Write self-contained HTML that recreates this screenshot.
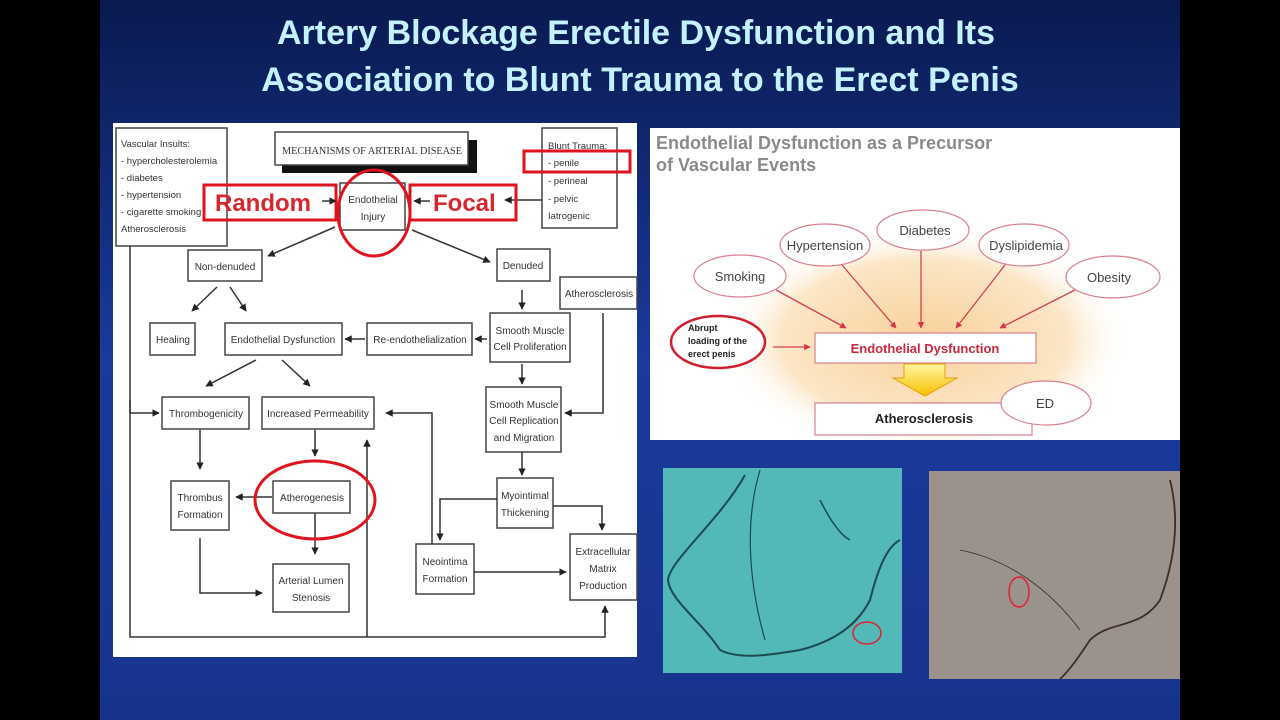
<!DOCTYPE html>
<html><head><meta charset="utf-8"><style>
html,body{margin:0;padding:0;background:#000;}
svg{display:block;font-family:"Liberation Sans",sans-serif;}
</style></head><body>
<svg width="1280" height="720" viewBox="0 0 1280 720" xmlns="http://www.w3.org/2000/svg">
<defs>
<linearGradient id="bg" x1="0" y1="0" x2="0" y2="1">
<stop offset="0" stop-color="#0a1a50"/><stop offset="0.5" stop-color="#1a3a9c"/><stop offset="1" stop-color="#17338c"/>
</linearGradient>
<radialGradient id="glow" cx="0.5" cy="0.5" r="0.5">
<stop offset="0" stop-color="#f8d09a"/><stop offset="0.7" stop-color="#fce6c6"/><stop offset="1" stop-color="#ffffff" stop-opacity="0"/>
</radialGradient>
<clipPath id="rp"><rect x="650" y="128" width="530" height="312"/></clipPath>
<linearGradient id="yarr" x1="0" y1="0" x2="0" y2="1"><stop offset="0" stop-color="#fff6a0"/><stop offset="1" stop-color="#f5c000"/></linearGradient>
<marker id="a" viewBox="0 0 10 10" refX="9" refY="5" markerWidth="5" markerHeight="5" orient="auto"><path d="M0,0L10,5L0,10z" fill="#222"/></marker>
<marker id="r" viewBox="0 0 10 10" refX="9" refY="5" markerWidth="5" markerHeight="5" orient="auto"><path d="M0,0L10,5L0,10z" fill="#d8344a"/></marker>
</defs>
<rect x="0" y="0" width="1280" height="720" fill="#000"/>
<rect x="100" y="0" width="1080" height="720" fill="url(#bg)"/>
<g fill="#c4f1ff" font-weight="bold" font-size="34" text-anchor="middle">
<text x="636" y="44">Artery Blockage Erectile Dysfunction and Its</text>
<text x="640" y="91">Association to Blunt Trauma to the Erect Penis</text>
</g>

<!-- Left diagram -->
<rect x="113" y="123" width="524" height="534" fill="#fff"/>
<g fill="none" stroke="#444" stroke-width="1.5" font-size="10">
<rect x="116" y="128" width="111" height="118"/>
<rect x="282" y="140" width="195" height="33" fill="#111" stroke="none"/>
<rect x="275" y="132" width="193" height="33" fill="#fff"/>
<rect x="542" y="128" width="75" height="100"/>
<rect x="340" y="183" width="65" height="47" fill="#fff"/>
<rect x="188" y="250" width="74" height="31"/>
<rect x="497" y="249" width="53" height="32"/>
<rect x="560" y="277" width="77" height="32"/>
<rect x="150" y="323" width="45" height="32"/>
<rect x="225" y="323" width="117" height="32"/>
<rect x="367" y="323" width="105" height="32"/>
<rect x="490" y="313" width="80" height="49"/>
<rect x="162" y="397" width="87" height="32"/>
<rect x="262" y="397" width="112" height="32"/>
<rect x="486" y="387" width="75" height="65"/>
<rect x="171" y="481" width="58" height="49"/>
<rect x="273" y="481" width="77" height="32"/>
<rect x="497" y="478" width="56" height="50"/>
<rect x="273" y="564" width="76" height="48"/>
<rect x="416" y="544" width="58" height="50"/>
<rect x="570" y="534" width="67" height="66"/>
</g>
<g stroke="#333" stroke-width="1.5" fill="none" marker-end="url(#a)">
<path d="M542,200L505,200"/>
<path d="M335,227L268,256"/>
<path d="M412,230L490,262"/>
<path d="M217,287L192,311"/>
<path d="M230,287L246,311"/>
<path d="M522,290L522,309"/>
<path d="M487,339L475,339"/>
<path d="M365,339L345,339"/>
<path d="M522,364L522,384"/>
<path d="M256,360L206,386"/>
<path d="M282,360L310,386"/>
<path d="M130,246L130,413L159,413"/>
<path d="M603,313L603,413L565,413"/>
<path d="M200,430L200,469"/>
<path d="M315,430L315,456"/>
<path d="M272,497L236,497"/>
<path d="M315,513L315,554"/>
<path d="M200,538L200,593L262,593"/>
<path d="M367,637L367,440"/>
<path d="M432,544L432,413L386,413"/>
<path d="M522,452L522,475"/>
<path d="M497,499L440,499L440,540"/>
<path d="M553,506L602,506L602,530"/>
<path d="M474,572L566,572"/>
<path d="M130,400L130,637L605,637L605,606"/>
</g>
<g fill="#333" font-size="10" text-anchor="middle">
<text x="372" y="154" font-family="Liberation Serif,serif" font-size="10" textLength="180" lengthAdjust="spacingAndGlyphs">MECHANISMS OF ARTERIAL DISEASE</text>
<g text-anchor="start" font-size="9.5">
<text x="121" y="147">Vascular Insults:</text>
<text x="121" y="164">- hypercholesterolemia</text>
<text x="121" y="181">- diabetes</text>
<text x="121" y="198">- hypertension</text>
<text x="121" y="215">- cigarette smoking</text>
<text x="121" y="232">Atherosclerosis</text>
<text x="548" y="149">Blunt Trauma:</text>
<text x="548" y="166">- penile</text>
<text x="548" y="184">- perineal</text>
<text x="548" y="202">- pelvic</text>
<text x="548" y="219">Iatrogenic</text>
</g>
<text x="373" y="203">Endothelial</text><text x="373" y="220">Injury</text>
<text x="225" y="270">Non-denuded</text>
<text x="523" y="269">Denuded</text>
<text x="599" y="297">Atherosclerosis</text>
<text x="173" y="343">Healing</text>
<text x="283" y="343">Endothelial Dysfunction</text>
<text x="420" y="343">Re-endothelialization</text>
<text x="530" y="334">Smooth Muscle</text><text x="530" y="350">Cell Proliferation</text>
<text x="206" y="417">Thrombogenicity</text>
<text x="318" y="417">Increased Permeability</text>
<text x="524" y="408">Smooth Muscle</text><text x="524" y="424">Cell Replication</text><text x="524" y="441">and Migration</text>
<text x="200" y="501">Thrombus</text><text x="200" y="518">Formation</text>
<text x="312" y="501">Atherogenesis</text>
<text x="525" y="499">Myointimal</text><text x="525" y="516">Thickening</text>
<text x="311" y="584">Arterial Lumen</text><text x="311" y="601">Stenosis</text>
<text x="445" y="565">Neointima</text><text x="445" y="582">Formation</text>
<text x="603" y="555">Extracellular</text><text x="603" y="572">Matrix</text><text x="603" y="589">Production</text>
</g>
<g fill="none" stroke="#e0141e" stroke-width="3">
<rect x="524" y="151" width="106" height="21"/>
<rect x="204" y="185" width="132" height="35"/>
<rect x="410" y="185" width="106" height="35"/>
<ellipse cx="374" cy="213" rx="36" ry="43"/>
<ellipse cx="315" cy="500" rx="60" ry="39"/>
</g>
<g fill="#d8262e" font-weight="bold" font-size="24">
<text x="215" y="211">Random</text>
<text x="433" y="211">Focal</text>
</g>
<path d="M322,201L336,201" stroke="#333" stroke-width="1.5" marker-end="url(#a)"/>
<path d="M430,201L414,201" stroke="#333" stroke-width="1.5" marker-end="url(#a)"/>

<!-- Right top panel -->
<rect x="650" y="128" width="530" height="312" fill="#fff"/>
<ellipse cx="925" cy="340" rx="205" ry="115" fill="url(#glow)" clip-path="url(#rp)"/>
<g fill="#8a8a8a" font-weight="bold" font-size="18">
<text x="656" y="149">Endothelial Dysfunction as a Precursor</text>
<text x="656" y="171">of Vascular Events</text>
</g>
<g stroke="#d44050" stroke-width="1.3" fill="none" marker-end="url(#r)">
<path d="M776,290L846,328"/>
<path d="M842,265L896,328"/>
<path d="M921,251L921,328"/>
<path d="M1005,265L956,328"/>
<path d="M1075,290L1000,328"/>
<path d="M773,347L810,347"/>
</g>
<g fill="#fff" stroke="#d88090" stroke-width="1.2">
<ellipse cx="740" cy="276" rx="46" ry="21"/>
<ellipse cx="825" cy="245" rx="45" ry="21"/>
<ellipse cx="923" cy="230" rx="46" ry="20"/>
<ellipse cx="1024" cy="245" rx="45" ry="21"/>
<ellipse cx="1113" cy="277" rx="47" ry="21"/>
<rect x="815" y="333" width="221" height="30"/>
<rect x="815" y="403" width="217" height="32"/>
<ellipse cx="1046" cy="403" rx="45" ry="22"/>
</g>
<ellipse cx="718" cy="342" rx="47" ry="26" fill="#fff" stroke="#d0202e" stroke-width="2.5"/>
<path d="M904,364L945,364L945,378L957,378L925,396L893,378L904,378Z" fill="url(#yarr)" stroke="#e6a000"/>
<g fill="#444" font-size="13" text-anchor="middle">
<text x="740" y="281">Smoking</text>
<text x="825" y="250">Hypertension</text>
<text x="925" y="235">Diabetes</text>
<text x="1026" y="250">Dyslipidemia</text>
<text x="1109" y="282">Obesity</text>
<text x="1045" y="408">ED</text>
</g>
<text x="925" y="353" text-anchor="middle" fill="#c8283c" font-weight="bold" font-size="13">Endothelial Dysfunction</text>
<text x="924" y="423" text-anchor="middle" fill="#222" font-weight="bold" font-size="13">Atherosclerosis</text>
<g fill="#222" font-weight="bold" font-size="9">
<text x="688" y="331">Abrupt</text><text x="688" y="344">loading of the</text><text x="688" y="357">erect penis</text>
</g>

<!-- Angiogram images -->
<rect x="663" y="468" width="239" height="205" fill="#52b8b8"/>
<g fill="none" stroke="#1d4a50" stroke-width="2">
<path d="M745,475C720,520 670,560 668,580C670,600 700,620 720,650C740,660 770,655 800,650C840,640 860,620 870,600C880,560 890,545 900,540"/>
<path d="M760,470C745,520 748,580 765,640" stroke-width="1.2"/>
<path d="M820,500C830,520 840,535 850,540" stroke-width="1.5"/>
</g>
<ellipse cx="867" cy="633" rx="14" ry="11" fill="none" stroke="#e02030" stroke-width="1.5"/>
<rect x="929" y="471" width="251" height="208" fill="#9c928c"/>
<g fill="none" stroke="#3a2e2a" stroke-width="1.8">
<path d="M1170,480C1180,520 1175,560 1160,600C1140,630 1110,620 1090,640C1080,655 1070,670 1060,679"/>
<path d="M960,550C1010,560 1050,590 1080,630" stroke-width="0.8"/>
</g>
<ellipse cx="1019" cy="592" rx="10" ry="15" fill="none" stroke="#e02030" stroke-width="1.5"/>
</svg>
</body></html>
